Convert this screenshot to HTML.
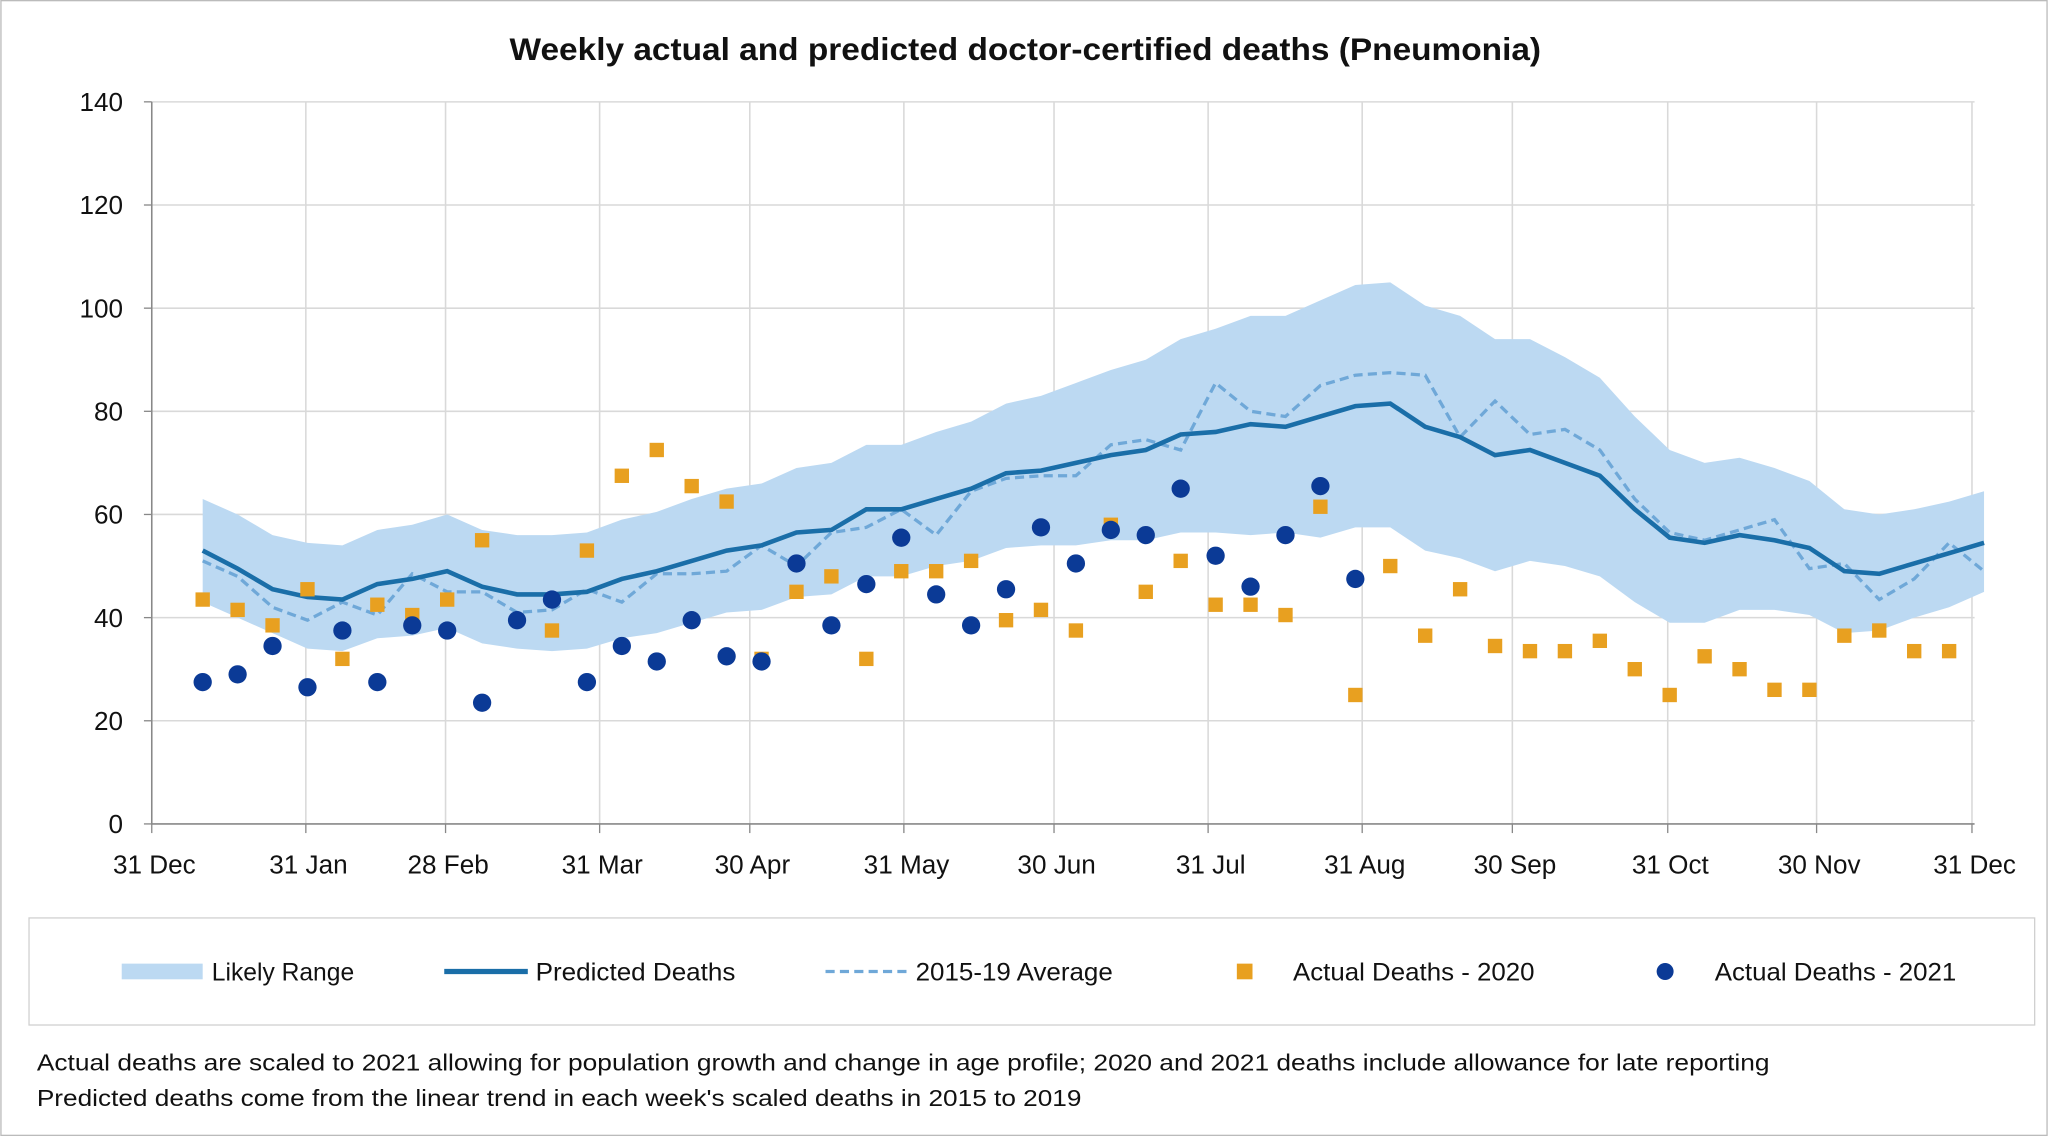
<!DOCTYPE html>
<html><head><meta charset="utf-8"><style>
html,body{margin:0;padding:0;background:#fff;}
svg{display:block;font-family:"Liberation Sans",sans-serif;}
</style></head><body>
<svg id="s" width="2048" height="1136" viewBox="0 0 1568 870" xmlns="http://www.w3.org/2000/svg">
<rect x="0.5" y="0.5" width="1567" height="869" fill="#fff" stroke="#bbb"/>
<text x="390" y="46" font-size="24" font-weight="bold" fill="#111" textLength="790" lengthAdjust="spacingAndGlyphs">Weekly actual and predicted doctor-certified deaths (Pneumonia)</text>
<g id="grid"></g>
<g id="plot"></g>
<rect x="22" y="703" width="1536" height="82" fill="none" stroke="#d0d0d0"/>
<rect x="93" y="738" width="62" height="12" fill="#bcd9f2"/>
<text x="162" y="751" font-size="19" fill="#111" textLength="109" lengthAdjust="spacingAndGlyphs">Likely Range</text>
<line x1="340" y1="744" x2="404" y2="744" stroke="#1a6ea8" stroke-width="4"/>
<text x="410" y="751" font-size="19" fill="#111" textLength="153" lengthAdjust="spacingAndGlyphs">Predicted Deaths</text>
<line x1="632" y1="744" x2="696" y2="744" stroke="#6fa8d8" stroke-width="2.5" stroke-dasharray="7,4"/>
<text x="701" y="751" font-size="19" fill="#111" textLength="151" lengthAdjust="spacingAndGlyphs">2015-19 Average</text>
<rect x="947" y="738" width="12" height="12" fill="#e8a020"/>
<text x="990" y="751" font-size="19" fill="#111" textLength="185" lengthAdjust="spacingAndGlyphs">Actual Deaths - 2020</text>
<circle cx="1275" cy="744" r="6.5" fill="#0b3a96"/>
<text x="1313" y="751" font-size="19" fill="#111" textLength="185" lengthAdjust="spacingAndGlyphs">Actual Deaths - 2021</text>
<text x="28" y="820" font-size="18" fill="#111" textLength="1327" lengthAdjust="spacingAndGlyphs">Actual deaths are scaled to 2021 allowing for population growth and change in age profile; 2020 and 2021 deaths include allowance for late reporting</text>
<text x="28" y="847" font-size="18" fill="#111" textLength="800" lengthAdjust="spacingAndGlyphs">Predicted deaths come from the linear trend in each week's scaled deaths in 2015 to 2019</text>
</svg>
<script>
const NS="http://www.w3.org/2000/svg";
function el(p,t,a,txt){const e=document.createElementNS(NS,t);for(const k in a)e.setAttribute(k,a[k]);if(txt!==undefined)e.textContent=txt;document.getElementById(p).appendChild(e);return e;}
const y=v=>631-v*3.95, X0=116, X1=1510, wx=i=>155+i*26.75;
for(let v=0;v<=140;v+=20){ if(v>0) el("grid","line",{x1:X0,x2:1512,y1:y(v),y2:y(v),stroke:"#d9d9d9","stroke-width":1.2});
 el("grid","text",{x:94,y:y(v)+7,"text-anchor":"end","font-size":20,fill:"#111"},v);}
const labs=["31 Dec","31 Jan","28 Feb","31 Mar","30 Apr","31 May","30 Jun","31 Jul","31 Aug","30 Sep","31 Oct","30 Nov","31 Dec"];
const lx=[116,234,341,459,574,692,807,925,1043,1158,1277,1391,1510];
lx.forEach((x,i)=>{ if(i>0) el("grid","line",{x1:x,x2:x,y1:78,y2:631,stroke:"#d9d9d9","stroke-width":1.2});
 el("grid","line",{x1:x,x2:x,y1:631,y2:638,stroke:"#888"});
 el("grid","text",{x:x+2,y:669,"text-anchor":"middle","font-size":20,fill:"#111"},labs[i]);});
el("grid","line",{x1:X0,x2:X0,y1:78,y2:631,stroke:"#888","stroke-width":1.2});
el("grid","line",{x1:X0,x2:1512,y1:631,y2:631,stroke:"#888","stroke-width":1.2});
for(let v=0;v<=140;v+=20) el("grid","line",{x1:110,x2:116,y1:y(v),y2:y(v),stroke:"#888"});
const pred=[53,49.5,45.5,44,43.5,46.5,47.5,49,46,44.5,44.5,45,47.5,49,51,53,54,56.5,57,61,61,63,65,68,68.5,70,71.5,72.5,75.5,76,77.5,77,79,81,81.5,77,75,71.5,72.5,70,67.5,61,55.5,54.5,56,55,53.5,49,48.5,50.5,52.5,54.5];
const avg=[51,48,42,39.5,43,40.5,48.5,45,45,41,41.5,45.5,43,48.5,48.5,49,54,50,56.5,57.5,61,56,64.5,67,67.5,67.5,73.5,74.5,72.5,85.5,80,79,85,87,87.5,87,75,82,75.5,76.5,72.5,63,56.5,55,57,59,49.5,50.5,43.5,47.5,54.5,49];
const up=[63,60,56,54.5,54,57,58,60,57,56,56,56.5,59,60.5,63,65,66,69,70,73.5,73.5,76,78,81.5,83,85.5,88,90,94,96,98.5,98.5,101.5,104.5,105,100.5,98.5,94,94,90.5,86.5,79,72.5,70,71,69,66.5,61,60,61,62.5,64.5];
const lo=[43,40,37,34,33.5,36,36.5,38,35,34,33.5,34,36,37,39,41,41.5,44,44.5,48,48,50,51,53.5,54,54,55,55,56.5,56.5,56,56.5,55.5,57.5,57.5,53,51.5,49,51,50,48,43,39,39,41.5,41.5,40.5,37,37.5,40,42,45];
let d="M"+up.map((v,i)=>wx(i)+","+y(v)).join("L");
d+="L"+lo.map((v,i)=>wx(i)+","+y(v)).reverse().join("L")+"Z";
el("plot","path",{d:d,fill:"#bcd9f2"});
el("plot","polyline",{points:avg.map((v,i)=>wx(i)+","+y(v)).join(" "),fill:"none",stroke:"#6fa8d8","stroke-width":2.5,"stroke-dasharray":"7,4"});
el("plot","polyline",{points:pred.map((v,i)=>wx(i)+","+y(v)).join(" "),fill:"none",stroke:"#1a6ea8","stroke-width":3.5});
const a20=[43.5,41.5,38.5,45.5,32,42.5,40.5,43.5,55,null,37.5,53,67.5,72.5,65.5,62.5,32,45,48,32,49,49,51,39.5,41.5,37.5,58,45,51,42.5,42.5,40.5,61.5,25,50,36.5,45.5,34.5,33.5,33.5,35.5,30,25,32.5,30,26,26,36.5,37.5,33.5,33.5];
a20.forEach((v,i)=>{if(v!=null)el("plot","rect",{x:wx(i)-5.5,y:y(v)-5.5,width:11,height:11,fill:"#e8a020"});});
const a21=[27.5,29,34.5,26.5,37.5,27.5,38.5,37.5,23.5,39.5,43.5,27.5,34.5,31.5,39.5,32.5,31.5,50.5,38.5,46.5,55.5,44.5,38.5,45.5,57.5,50.5,57,56,65,52,46,56,65.5,47.5];
a21.forEach((v,i)=>el("plot","circle",{cx:wx(i),cy:y(v),r:7,fill:"#0b3a96"}));
</script>
</body></html>
